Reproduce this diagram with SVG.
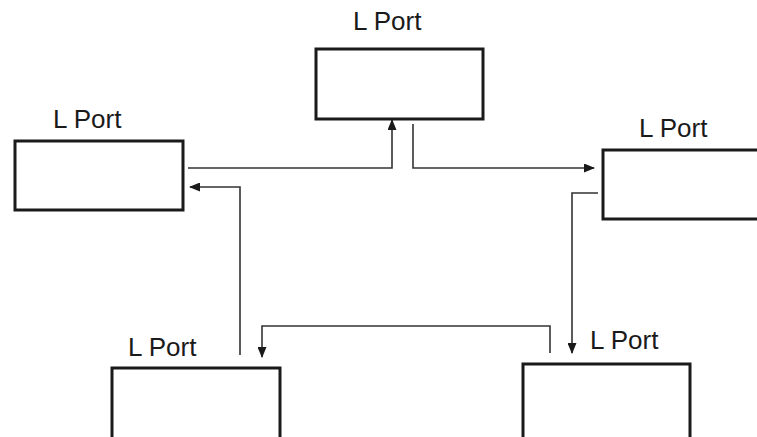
<svg xmlns="http://www.w3.org/2000/svg" width="757" height="437" viewBox="0 0 757 437">
<style>
.box{fill:#fff;stroke:#1a1a1a;stroke-width:3}
.lbl{font-family:"Liberation Sans",Arial,sans-serif;font-size:26px;fill:#1a1a1a}
.ln{fill:none;stroke:#333;stroke-width:1.6}
</style>
<defs>
<marker id="ah" markerWidth="11" markerHeight="9" refX="10" refY="4.5" orient="auto" markerUnits="userSpaceOnUse">
<path d="M0,0 L11,4.5 L0,9 Z" fill="#1a1a1a"/>
</marker>
</defs>
<rect width="757" height="437" fill="#fff"/>
<g id="top">
<rect class="box" x="316" y="49" width="167" height="70"/>
<text class="lbl" x="353" y="30">L Port</text>
</g>
<g id="left">
<rect class="box" x="15" y="141" width="168" height="69"/>
<text class="lbl" x="53" y="128">L Port</text>
</g>
<g id="right">
<rect class="box" x="603" y="150" width="160" height="69"/>
<text class="lbl" x="639" y="137">L Port</text>
</g>
<g id="bottomleft">
<rect class="box" x="112" y="368" width="168" height="80"/>
<text class="lbl" x="128" y="356">L Port</text>
</g>
<g id="bottomright">
<rect class="box" x="523" y="364" width="167" height="84"/>
<text class="lbl" x="590" y="349">L Port</text>
</g>
<g id="connectors">
<path class="ln" d="M188,168 H392 V120" marker-end="url(#ah)"/>
<path class="ln" d="M413,124 V168 H594" marker-end="url(#ah)"/>
<path class="ln" d="M598,193 H572 V353" marker-end="url(#ah)"/>
<path class="ln" d="M550,353 V326 H262 V357" marker-end="url(#ah)"/>
<path class="ln" d="M240,355 V187 H190" marker-end="url(#ah)"/>
</g>
</svg>
